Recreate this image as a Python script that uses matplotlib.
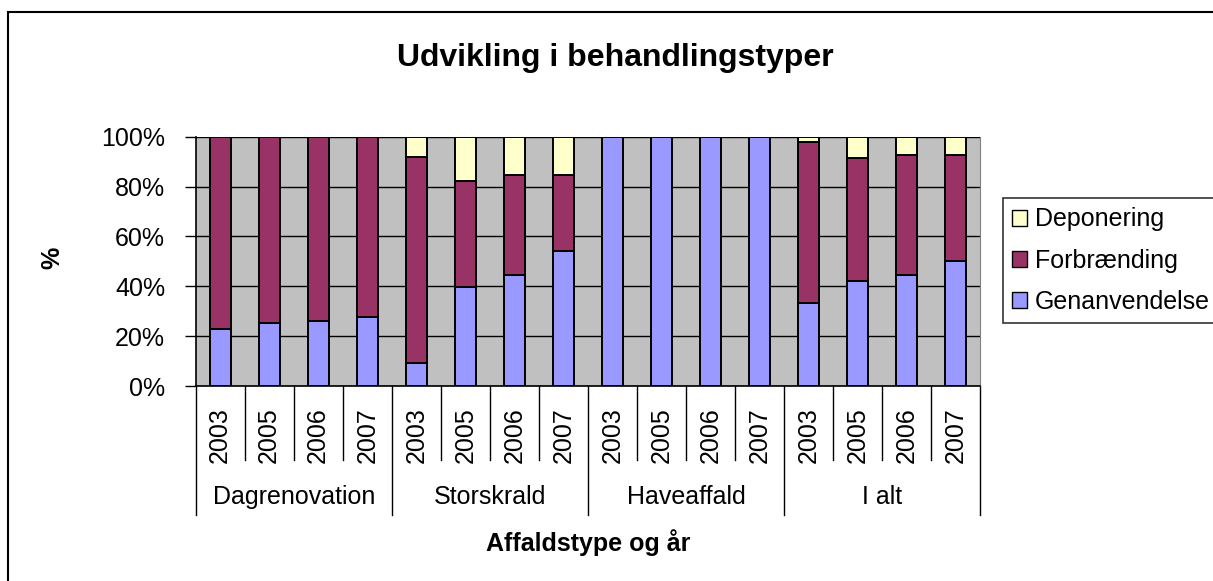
import matplotlib
matplotlib.use("Agg")
import matplotlib.pyplot as plt
from matplotlib.patches import Rectangle, Patch
import numpy as np

plt.rcParams["font.family"] = ["Liberation Sans", "DejaVu Sans"]

groups = ["Dagrenovation", "Storskrald", "Haveaffald", "I alt"]
years = ["2003", "2005", "2006", "2007"]
# shares in percent, one value per group/year (16 bars)
genanvendelse = [23.0, 25.3, 26.1, 27.7,
                 9.4, 39.7, 44.5, 54.3,
                 100.0, 100.0, 100.0, 100.0,
                 33.4, 42.2, 44.5, 50.3]
forbraending = [77.0, 74.7, 73.9, 72.3,
                82.4, 42.7, 40.1, 30.3,
                0.0, 0.0, 0.0, 0.0,
                64.3, 49.1, 48.3, 42.5]
deponering = [0.0, 0.0, 0.0, 0.0,
              8.2, 17.6, 15.4, 15.4,
              0.0, 0.0, 0.0, 0.0,
              2.3, 8.7, 7.2, 7.2]

C_GEN = "#9999FF"
C_FOR = "#993366"
C_DEP = "#FFFFCC"
FS = 18

W, H = 1213, 581
fig = plt.figure(figsize=(W / 100, H / 100), dpi=100)
ax = fig.add_axes([195.7 / W, 1 - 386 / H, (980 - 195.7) / W, (386 - 136.7) / H])
ax.set_facecolor("#C0C0C0")

x = np.arange(len(genanvendelse))
gen = np.array(genanvendelse)
fb = np.array(forbraending)
dp = np.array(deponering)
kw = dict(width=0.43, edgecolor="black", linewidth=1.4, zorder=3)
ax.bar(x, gen, color=C_GEN, **kw)
ax.bar(x, fb, bottom=gen, color=C_FOR, **kw)
ax.bar(x, dp, bottom=gen + fb, color=C_DEP, **kw)

ax.set_xlim(-0.5, len(x) - 0.5)
ax.set_ylim(0, 100)
ax.set_yticks(range(0, 101, 20))
ax.set_yticklabels([f"{v}%" for v in range(0, 101, 20)], fontsize=FS)
ax.yaxis.grid(True, color="black", linewidth=1.0, zorder=0)
ax.set_axisbelow(True)
ax.tick_params(axis="y", length=8, width=1, pad=14)
ax.set_xticks([])
ax.spines["top"].set_visible(False)
ax.spines["right"].set_color("#808080")
ax.spines["left"].set_linewidth(1.2)
ax.spines["bottom"].set_linewidth(1.2)

# multi-level category axis
ah = 386 - 136.7
def yax(py):
    return (386 - py) / ah

trans = ax.get_xaxis_transform()
for i in range(len(x) + 1):
    xb = i - 0.5
    y1 = yax(515) if i % 4 == 0 else yax(460)
    ax.plot([xb, xb], [0, y1], color="black", linewidth=1, transform=trans, clip_on=False)
for i in range(len(x)):
    ax.text(i, yax(435), years[i % 4], rotation=90, ha="center", va="center",
            fontsize=FS, transform=trans)
for g, name in enumerate(groups):
    ax.text(g * 4 + 1.5, yax(497), name, ha="center", va="center",
            fontsize=FS, transform=trans)

ax.text(0.5, yax(543), "Affaldstype og år", ha="center", va="center",
        fontsize=FS, fontweight="bold", transform=ax.transAxes)
fig.text(52 / W, 1 - 258 / H, "%", rotation=90, ha="center", va="center",
         fontsize=FS, fontweight="bold")
fig.text(615 / W, 1 - 58 / H, "Udvikling i behandlingstyper", ha="center", va="center",
         fontsize=23, fontweight="bold")

handles = [Patch(facecolor=C_DEP, edgecolor="black"),
           Patch(facecolor=C_FOR, edgecolor="black"),
           Patch(facecolor=C_GEN, edgecolor="black")]
leg = fig.legend(handles, ["Deponering", "Forbrænding", "Genanvendelse"],
                 loc="upper left", bbox_to_anchor=(1003 / W, 1 - 198 / H),
                 fontsize=FS, frameon=True, fancybox=False, edgecolor="black",
                 handlelength=0.6, handleheight=0.6, handletextpad=0.3,
                 labelspacing=0.69, borderpad=0.38, borderaxespad=0)
leg.get_frame().set_linewidth(1.2)

fig.patches.append(Rectangle((8 / W, -0.1), 1.2, 1 - 12 / H + 0.1, transform=fig.transFigure,
                             fill=False, edgecolor="black", linewidth=1.5))

fig.savefig("out.png", dpi=100)
